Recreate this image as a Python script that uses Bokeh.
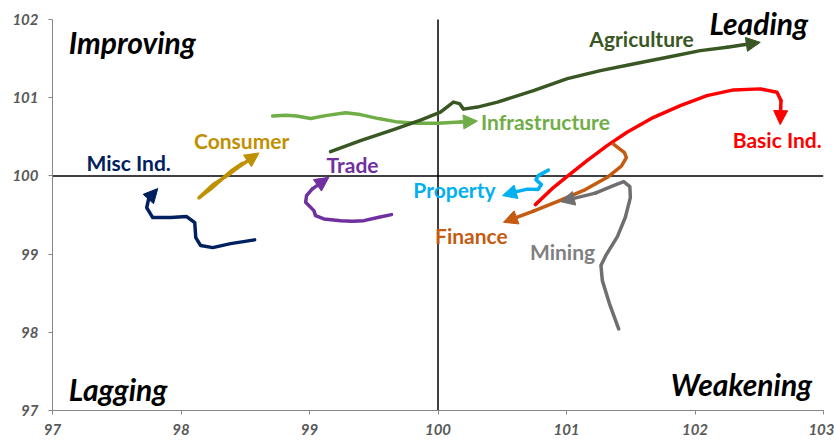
from bokeh.plotting import figure
from bokeh.models import (ColumnDataSource, Range1d, FixedTicker, Arrow,
                          NormalHead, Label)
from bokeh.core.properties import value
from bokeh.embed import file_html
from bokeh.resources import INLINE

# ---- data (RS-Ratio on x, RS-Momentum on y), oldest -> newest ----
misc_x = [98.573, 98.386, 98.247, 98.153, 98.115, 98.107, 98.044, 97.920, 97.780, 97.733, 97.749, 97.819]
misc_y = [99.182, 99.134, 99.083, 99.109, 99.211, 99.403, 99.480, 99.467, 99.467, 99.595, 99.710, 99.838]

cons_x = [98.477, 98.388, 98.334, 98.231, 98.140, 98.257, 98.361, 98.439, 98.607]
cons_y = [100.161, 100.059, 99.982, 99.834, 99.719, 99.898, 100.004, 100.102, 100.294]

trade_x = [99.638, 99.540, 99.423, 99.333, 99.242, 99.112, 99.047, 99.034, 98.970, 98.977, 99.022, 99.151]
trade_y = [99.505, 99.471, 99.428, 99.419, 99.428, 99.450, 99.492, 99.556, 99.662, 99.748, 99.834, 99.982]

infra_x = [98.713, 98.814, 98.900, 99.009, 99.125, 99.281, 99.397, 99.537, 99.669, 99.825, 99.996, 100.175, 100.307]
infra_y = [100.765, 100.777, 100.765, 100.733, 100.771, 100.809, 100.784, 100.733, 100.694, 100.675, 100.673, 100.688, 100.701]

agri_x = [99.164, 99.397, 99.654, 99.864, 100.019, 100.120, 100.167, 100.198, 100.307, 100.463, 100.743,
          101.007, 101.264, 101.520, 101.785, 102.041, 102.251, 102.508]
agri_y = [100.311, 100.451, 100.592, 100.714, 100.816, 100.944, 100.925, 100.854, 100.880, 100.944, 101.091,
          101.244, 101.346, 101.432, 101.517, 101.602, 101.645, 101.708]

basic_x = [100.758, 100.900, 101.030, 101.160, 101.316, 101.471, 101.678, 101.886, 102.093, 102.300, 102.508,
           102.638, 102.669, 102.663]
basic_y = [99.633, 99.854, 100.026, 100.196, 100.387, 100.558, 100.749, 100.899, 101.027, 101.100, 101.113,
           101.069, 100.963, 100.656]

fin_x = [101.365, 101.451, 101.466, 101.427, 101.318, 101.147, 100.937, 100.743, 100.509]
fin_y = [100.407, 100.298, 100.234, 100.125, 99.982, 99.825, 99.678, 99.550, 99.407]

mining_x = [101.406, 101.334, 101.279, 101.268, 101.310, 101.396, 101.458, 101.497, 101.493, 101.445, 101.365,
            101.225, 100.953]
mining_y = [98.043, 98.367, 98.661, 98.853, 98.994, 99.224, 99.471, 99.723, 99.863, 99.927, 99.876,
            99.780, 99.671]

prop_x = [100.859, 100.781, 100.762, 100.805, 100.778, 100.696, 100.611, 100.502]
prop_y = [100.074, 100.004, 99.953, 99.889, 99.825, 99.831, 99.799, 99.748]

series_names = ["Misc Ind.", "Consumer", "Trade", "Infrastructure", "Agriculture",
                "Basic Ind.", "Finance", "Mining", "Property"]
series_colors = ["#002060", "#BF9000", "#7030A0", "#70AD47", "#385723",
                 "#FF0000", "#C55A11", "#6F6F6F", "#00B0F0"]
label_colors = ["#002060", "#BF9000", "#7030A0", "#70AD47", "#385723",
                "#FF0000", "#C55A11", "#7F7F7F", "#00B0F0"]
label_x = [97.593, 98.472, 99.335, 100.836, 101.584, 102.640, 100.260, 100.969, 100.128]
label_y = [100.170, 100.450, 100.145, 100.693, 101.755, 100.464, 99.236, 99.031, 99.824]

quad_names = ["Improving", "Leading", "Lagging", "Weakening"]
quad_x = [97.127, 102.880, 97.127, 102.912]
quad_y = [101.717, 101.957, 97.280, 97.344]
quad_align = ["left", "right", "left", "right"]

x_ticks = [97, 98, 99, 100, 101, 102, 103]
y_ticks = [97, 98, 99, 100, 101, 102]
CENTER = 100

all_x = [misc_x, cons_x, trade_x, infra_x, agri_x, basic_x, fin_x, mining_x, prop_x]
all_y = [misc_y, cons_y, trade_y, infra_y, agri_y, basic_y, fin_y, mining_y, prop_y]

# ---- figure ----
# a little head-room above 102 so the "Leading" caption is not clipped
p = figure(width=834, height=441, output_backend="svg", toolbar_location=None,
           x_range=Range1d(97, 103), y_range=Range1d(97, 102.192),
           min_border_left=52, min_border_right=11, min_border_top=4, min_border_bottom=31)
p.outline_line_color = None
p.xgrid.visible = False
p.ygrid.visible = False
p.background_fill_color = "white"

for ax, ticks in ((p.xaxis[0], x_ticks), (p.yaxis[0], y_ticks)):
    ax.ticker = FixedTicker(ticks=ticks)
    ax.bounds = (ticks[0], ticks[-1])
    ax.minor_tick_line_color = None
    ax.axis_line_color = "#868686"
    ax.major_tick_line_color = "#868686"
    ax.major_tick_in = 0
    ax.major_tick_out = 4
    ax.major_label_text_font = "Lato"
    ax.major_label_text_font_style = "bold italic"
    ax.major_label_text_font_size = "15px"
    ax.major_label_text_color = "#595959"
p.xaxis.major_label_standoff = 9
p.yaxis.major_label_standoff = 10

# quadrant dividers
p.line([CENTER, CENTER], [y_ticks[0], y_ticks[-1]], line_color="black", line_width=1.5)
p.line([x_ticks[0], x_ticks[-1]], [CENTER, CENTER], line_color="black", line_width=1.5)

for xs, ys, c in zip(all_x, all_y, series_colors):
    p.line(xs[:-1], ys[:-1], line_color=c, line_width=3.5, line_cap="round", line_join="round")
    p.add_layout(Arrow(end=NormalHead(size=14, fill_color=c, line_color=c),
                       x_start=xs[-2], y_start=ys[-2], x_end=xs[-1], y_end=ys[-1],
                       line_color=c, line_width=3.5, line_cap="round"))

src = ColumnDataSource(dict(x=label_x, y=label_y, text=series_names, color=label_colors))
p.text("x", "y", text="text", source=src, text_color="color", text_align="center",
       text_baseline="middle", text_font=value("Lato"), text_font_style="bold",
       text_font_size="21px")

for name, qx, qy, al in zip(quad_names, quad_x, quad_y, quad_align):
    p.add_layout(Label(x=qx, y=qy, text=name, text_align=al, text_baseline="middle",
                       text_color="black", text_font="Lato", text_font_style="bold italic",
                       text_font_size="30px"))

open("out.html", "w").write(file_html(p, INLINE))
